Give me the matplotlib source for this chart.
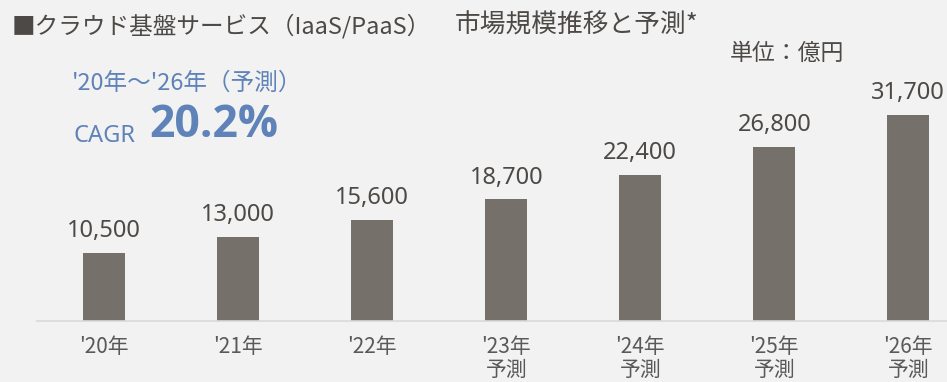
import matplotlib
matplotlib.use("Agg")
import matplotlib.pyplot as plt
from matplotlib import font_manager

# market size (unit: 100 million yen)
years = ["'20年", "'21年", "'22年", "'23年\n予測", "'24年\n予測", "'25年\n予測", "'26年\n予測"]
values = [10500, 13000, 15600, 18700, 22400, 26800, 31700]
cagr = "20.2%"

BG = "#f2f2f2"
BAR = "#75716a"
DARK = "#4d4946"
TICK = "#595959"
BLUE = "#5f83b9"
JP = ["Noto Sans CJK JP", "DejaVu Sans"]
NUM = ["Noto Sans", "Noto Sans CJK JP"]


def bold_family(cands):
    # first family that ships a real bold face
    for name in cands:
        for f in font_manager.fontManager.ttflist:
            if f.name == name and f.weight in (600, 700, 800, "bold", "semibold"):
                return name
    return "DejaVu Sans"


W, H = 947, 382
fig = plt.figure(figsize=(W / 100, H / 100), dpi=100, facecolor=BG)

# axes laid out in pixels: 134 px per category, baseline at y=321
left_px, base_px, step = 37.3, 321, 134
ax = fig.add_axes([left_px / W, (H - base_px) / H, (W - left_px) / W, base_px / H])
ax.set_facecolor(BG)

xs = list(range(len(values)))
ax.bar(xs, values, width=42 / step, color=BAR, zorder=2)
ax.set_xlim(-0.5, (W - left_px) / step - 0.5)
ax.set_ylim(0, 321 / (206 / 31700))

for x, v in zip(xs, values):
    ax.annotate(f"{v:,}", (x, v), xytext=(0, 11.5), textcoords="offset points",
                ha="center", va="baseline", fontsize=17, color=DARK, family=NUM)

for s in ["top", "right", "left"]:
    ax.spines[s].set_visible(False)
ax.spines["bottom"].set_color("#d9d9d9")
ax.spines["bottom"].set_linewidth(1.2)
ax.set_yticks([])
ax.set_xticks(xs)
ax.set_xticklabels(years, fontsize=15, color=TICK, family=JP, linespacing=1.02)
ax.tick_params(axis="x", length=0, pad=11)


def fy(px):
    return 1 - px / H


fig.text(12 / W, fy(33), "■クラウド基盤サービス（IaaS/PaaS）",
         fontsize=17, color=DARK, family=JP, va="baseline")
fig.text(455 / W, fy(33), "市場規模推移と予測*",
         fontsize=18.5, color=DARK, family=JP, va="baseline")
fig.text(730 / W, fy(60), "単位：億円", fontsize=16.5, color=DARK, family=JP, va="baseline")
fig.text(72 / W, fy(90), "'20年～'26年（予測）", fontsize=17, color=BLUE, family=JP, va="baseline")
fig.text(73 / W, fy(142), "CAGR", fontsize=17, color=BLUE, family=NUM, va="baseline")
fig.text(149 / W, fy(137), cagr, fontsize=32, color=BLUE,
         family=bold_family(["Open Sans", "Noto Sans", "Roboto", "Lato"]),
         fontweight="bold", va="baseline")

fig.savefig("out.png", dpi=100, facecolor=BG)
